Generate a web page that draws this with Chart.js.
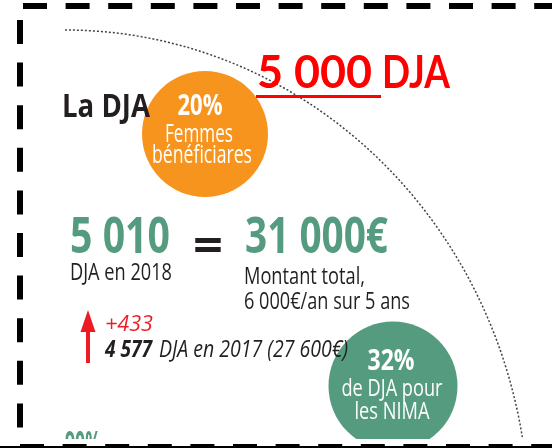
<!DOCTYPE html>
<html>

<head>
    <title>La DJA</title>
    <script src="https://cdn.jsdelivr.net/npm/chart.js"></script>
    <style>
        body { margin: 0; background: #fff; }
        canvas { display: block; }
    </style>
</head>

<body>
    <canvas id="grafica" width="552" height="448"></canvas>

    <script>
        // Donnees
        const annees = ['2017', '2018'];
        const nombreDJA = [4577, 5010];
        const montants = [27600, 31000];      // en euros
        const montantAnnuel = 6000;
        const dureeAns = 5;
        const objectifDJA = 5000;
        const partsPourcent = [20, 32];
        const partsLibelles = [['Femmes', 'bénéficiares'], ['de DJA pour', 'les NIMA']];
        const partSuivante = 90;

        // Mise en page (positions en pixels)
        const bulles = [{ x: 205, y: 134, r: 63 }, { x: 393, y: 386, r: 64.5 }];
        const couleurs = { orange: '#f7941e', vert: '#559b7f', rouge: '#ed1c24', texte: '#231f20', rougeVif: '#ff0000' };

        function fmt(n) {
            return n.toString().replace(/\B(?=(\d{3})+(?!\d))/g, ' ');
        }

        const police = '"Open Sans", "DejaVu Sans", sans-serif';

        // liste des textes: [texte, x, ligne de base, taille, graisse, style, couleur, largeur, alignement]
        const diff = nombreDJA[1] - nombreDJA[0];
        const textes = [
            ['La DJA', 62, 117, 32, 'bold', 'normal', couleurs.texte, 88, 'left'],
            [partsPourcent[0] + '%', 200, 115, 28, 'bold', 'normal', '#fff', 45, 'center'],
            [partsLibelles[0][0], 199, 142, 26, 'normal', 'normal', '#fff', 68, 'center'],
            [partsLibelles[0][1], 202, 163, 26, 'normal', 'normal', '#fff', 100, 'center'],
            [fmt(nombreDJA[1]), 70, 253, 50, 'bold', 'normal', couleurs.vert, 100, 'left'],
            ['=', 193, 262, 46, 'bold', 'normal', couleurs.texte, 30, 'left'],
            [fmt(montants[1]) + '€', 245, 253, 50, 'bold', 'normal', couleurs.vert, 143, 'left'],
            ['DJA en ' + annees[1], 70, 280, 23, 'normal', 'normal', couleurs.texte, 102, 'left'],
            ['Montant total,', 244, 284, 23, 'normal', 'normal', couleurs.texte, 121, 'left'],
            [fmt(montantAnnuel) + '€/an sur ' + dureeAns + ' ans', 244, 309, 23, 'normal', 'normal', couleurs.texte, 166, 'left'],
            ['+' + diff, 105, 331, 22, 'normal', 'italic', couleurs.rouge, 48, 'left'],
            [fmt(nombreDJA[0]), 105, 357, 23, 'bold', 'italic', couleurs.texte, 47, 'left'],
            ['DJA en ' + annees[0] + ' (' + fmt(montants[0]) + '€)', 159, 357, 23, 'normal', 'italic', couleurs.texte, 189, 'left'],
            [partsPourcent[1] + '%', 391, 370, 29, 'bold', 'normal', '#fff', 47, 'center'],
            [partsLibelles[1][0], 392, 396, 24, 'normal', 'normal', '#fff', 101, 'center'],
            [partsLibelles[1][1], 392, 419, 24, 'normal', 'normal', '#fff', 75, 'center'],
            [partSuivante + '%', 65, 455, 34, 'bold', 'normal', couleurs.vert, 36, 'left']
        ];

        function ecrire(ctx, t) {
            const [s, x, y, taille, graisse, style, couleur, largeur, align] = t;
            ctx.save();
            ctx.font = style + ' ' + graisse + ' ' + taille + 'px ' + police;
            ctx.fillStyle = couleur;
            ctx.textBaseline = 'alphabetic';
            const w = ctx.measureText(s).width;
            const sx = largeur ? largeur / w : 1;
            ctx.translate(x, y);
            ctx.scale(sx, 1);
            ctx.fillText(s, align === 'center' ? -w / 2 : 0, 0);
            ctx.restore();
        }

        const decor = {
            id: 'decor',
            beforeDatasetsDraw(chart) {
                const ctx = chart.ctx;
                // arc pointille
                ctx.save();
                ctx.strokeStyle = '#444';
                ctx.lineWidth = 1.5;
                ctx.setLineDash([2, 2]);
                ctx.beginPath();
                ctx.ellipse(65, 520, 464, 490, 0, -Math.PI / 2, -0.164);
                ctx.stroke();
                ctx.restore();
            },
            afterDatasetsDraw(chart) {
                const ctx = chart.ctx;
                ctx.save();
                ctx.beginPath();
                ctx.rect(0, 0, 552, 439);
                ctx.clip();
                textes.forEach(t => ecrire(ctx, t));
                ctx.restore();

                // objectif en rouge
                ctx.save();
                ctx.font = 'bold 46px Lato, "Open Sans", sans-serif';
                ctx.fillStyle = couleurs.rougeVif;
                const a = fmt(objectifDJA);
                let w = ctx.measureText(a).width;
                ctx.save();
                ctx.translate(257, 88);
                ctx.scale(115 / w, 1);
                ctx.fillText(a, 0, 0);
                ctx.restore();
                w = ctx.measureText('DJA').width;
                ctx.save();
                ctx.translate(382, 88);
                ctx.scale(68 / w, 1);
                ctx.fillText('DJA', 0, 0);
                ctx.restore();
                ctx.fillRect(256, 95, 125, 3);
                ctx.restore();

                // fleche
                ctx.save();
                ctx.fillStyle = couleurs.rouge;
                ctx.fillRect(86, 328, 4, 35);
                ctx.beginPath();
                ctx.moveTo(88, 310);
                ctx.lineTo(95.5, 332);
                ctx.lineTo(80.5, 332);
                ctx.closePath();
                ctx.fill();
                ctx.restore();

                // bande blanche + cadre
                ctx.save();
                ctx.fillStyle = '#fff';
                ctx.fillRect(0, 439, 552, 9);
                ctx.strokeStyle = '#000';
                ctx.lineWidth = 6;
                ctx.setLineDash([24, 18.6]);
                ctx.beginPath();
                ctx.moveTo(23, 6);
                ctx.lineTo(552, 6);
                ctx.stroke();
                ctx.beginPath();
                ctx.moveTo(20, 20);
                ctx.lineTo(20, 440);
                ctx.stroke();
                ctx.lineWidth = 5;
                ctx.beginPath();
                ctx.moveTo(20, 446.5);
                ctx.lineTo(552, 446.5);
                ctx.stroke();
                ctx.setLineDash([]);
                ctx.lineWidth = 2;
                ctx.beginPath();
                ctx.moveTo(0, 447);
                ctx.lineTo(552, 447);
                ctx.stroke();
                ctx.restore();
            }
        };

        const ctx = document.getElementById('grafica').getContext('2d');
        const chart = new Chart(ctx, {
            type: 'bubble',
            data: {
                datasets: [{
                    label: 'Part',
                    data: partsPourcent.map((p, i) => ({ x: bulles[i].x, y: bulles[i].y, r: bulles[i].r, v: p })),
                    backgroundColor: [couleurs.orange, couleurs.vert],
                    borderWidth: 0,
                    hoverRadius: 0,
                    clip: false
                }]
            },
            options: {
                responsive: false,
                animation: false,
                events: [],
                layout: { padding: 0 },
                plugins: {
                    legend: { display: false },
                    tooltip: { enabled: false }
                },
                scales: {
                    x: { type: 'linear', min: 0, max: 552, display: false },
                    y: { type: 'linear', min: 0, max: 448, reverse: true, display: false }
                }
            },
            plugins: [decor]
        });

        // la zone du graphique est reduite par le rayon des bulles:
        // on aligne les echelles pour qu'une unite = un pixel
        const zone = chart.chartArea;
        chart.options.scales.x.min = zone.left;
        chart.options.scales.x.max = zone.right;
        chart.options.scales.y.min = zone.top;
        chart.options.scales.y.max = zone.bottom;
        chart.update();
    </script>
</body>

</html>
